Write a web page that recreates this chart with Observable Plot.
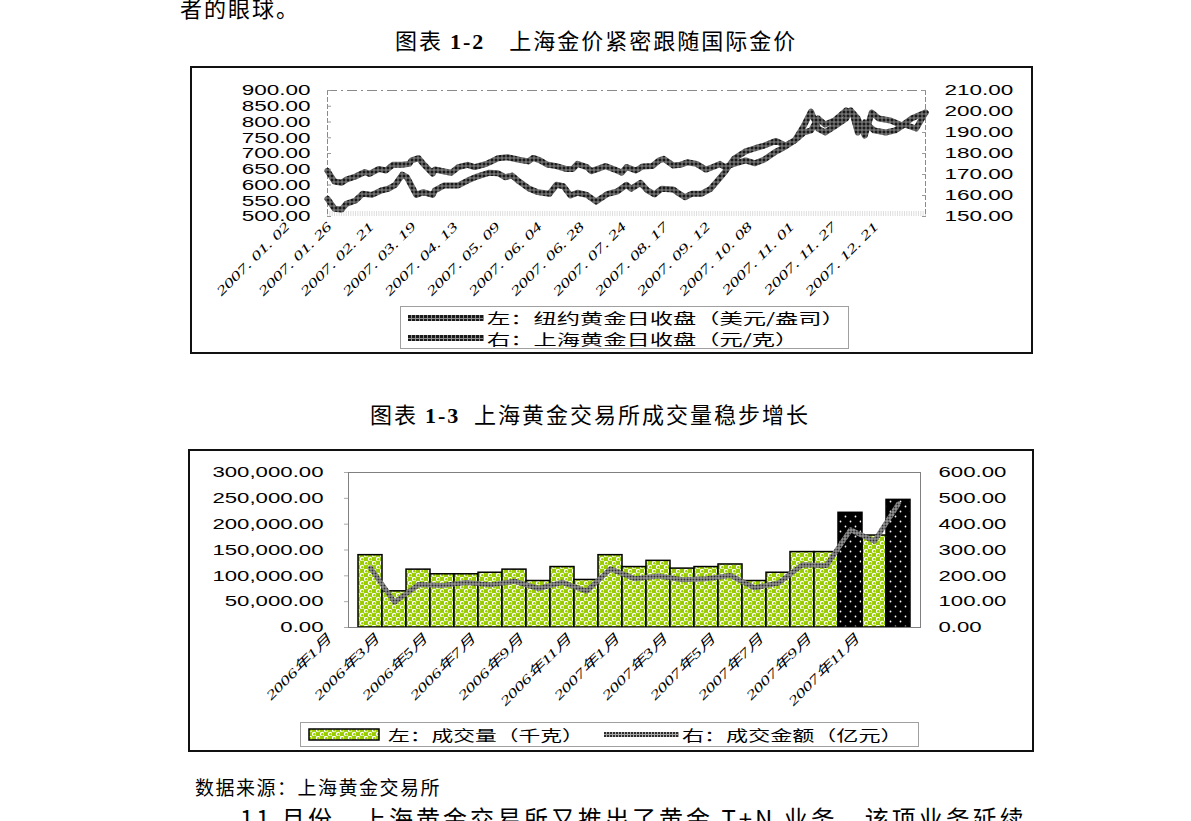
<!DOCTYPE html>
<html><head><meta charset="utf-8">
<script src="https://cdn.jsdelivr.net/npm/d3@7"></script>
<script src="https://cdn.jsdelivr.net/npm/@observablehq/plot@0.6"></script>
<style>
body{margin:0;background:#fff;}
#page{position:relative;width:1191px;height:821px;overflow:hidden;background:#fff;font-family:"Noto Sans CJK SC",sans-serif;color:#000;}
.abs{position:absolute;white-space:nowrap;}
.doc{font-size:22px;letter-spacing:2px;line-height:1;}
.box{position:absolute;box-sizing:border-box;border:2px solid #111;}
.lgbox{position:absolute;box-sizing:border-box;border:1px solid #a0a0a0;background:#fff;}
.lgtxt{position:absolute;font-size:15px;line-height:15px;height:15px;transform:scaleX(1.55);transform-origin:0 50%;white-space:nowrap;}
</style></head><body>
<svg width="0" height="0" style="position:absolute"><defs>
  <pattern id="tex1" width="4" height="4" patternUnits="userSpaceOnUse">
    <rect width="4" height="4" fill="#8c8c8c"/><rect width="3" height="3" fill="#1a1a1a"/>
  </pattern>
  <pattern id="tex2" width="3" height="3" patternUnits="userSpaceOnUse">
    <rect width="3" height="3" fill="#a8a8a8"/><rect width="2" height="2" fill="#2e2e2e"/>
  </pattern>
  <pattern id="green" width="8" height="8" patternUnits="userSpaceOnUse">
    <rect width="8" height="8" fill="#99cc00"/>
    <circle cx="2" cy="2" r="2.2" fill="#fff"/><circle cx="6" cy="6" r="2.2" fill="#fff"/>
    <circle cx="2.3" cy="2.3" r="1.2" fill="#9c0"/><circle cx="6.3" cy="6.3" r="1.2" fill="#9c0"/>
  </pattern>
  <pattern id="blackdots" width="10" height="10" patternUnits="userSpaceOnUse">
    <rect width="10" height="10" fill="#000"/>
    <circle cx="2.5" cy="2.5" r="0.9" fill="#fff"/><circle cx="7.5" cy="7.5" r="0.9" fill="#fff"/>
  </pattern>
</defs></svg>
<div id="page">
  <div class="abs doc" style="left:180px;top:-4px;">者的眼球。</div>
  <div class="abs doc" style="left:395px;top:28px;">图表 <b style="font-family:'Liberation Serif',serif;">1-2</b>　上海金价紧密跟随国际金价</div>
  <div class="box" style="left:190px;top:66px;width:843px;height:288px;"></div>
  <div id="c1" class="abs" style="left:190px;top:66px;width:842px;height:230px;"></div>
  <div class="lgbox" style="left:400px;top:306px;width:449px;height:43px;"></div>
  <svg class="abs" style="left:408px;top:315px;" width="76" height="6"><rect width="76" height="6" fill="url(#tex1)"/></svg>
  <svg class="abs" style="left:408px;top:335px;" width="76" height="6"><rect width="76" height="6" fill="url(#tex1)"/></svg>
  <div class="lgtxt" style="left:487px;top:310px;">左：纽约黄金日收盘（美元/盎司）</div>
  <div class="lgtxt" style="left:487px;top:331px;">右：上海黄金日收盘（元/克）</div>

  <div class="abs doc" style="left:370px;top:402px;">图表 <b style="font-family:'Liberation Serif',serif;">1-3</b>&nbsp;&nbsp;上海黄金交易所成交量稳步增长</div>
  <div class="box" style="left:188px;top:449px;width:846px;height:303px;"></div>
  <div id="c2" class="abs" style="left:188px;top:449px;width:845px;height:260px;"></div>
  <div class="lgbox" style="left:300px;top:722px;width:619px;height:25px;"></div>
  <svg class="abs" style="left:308px;top:728px;" width="73" height="14"><rect x="1" y="1" width="70" height="11" fill="url(#green)" stroke="#000" stroke-width="1.5"/></svg>
  <div class="lgtxt" style="left:388px;top:727px;transform:scaleX(1.45);">左：成交量（千克）</div>
  <svg class="abs" style="left:604px;top:732px;" width="75" height="5"><rect width="75" height="5" fill="url(#tex2)"/></svg>
  <div class="lgtxt" style="left:682px;top:727px;transform:scaleX(1.47);">右：成交金额（亿元）</div>

  <div class="abs doc" style="left:195px;top:777px;font-size:19px;letter-spacing:1.5px;">数据来源：上海黄金交易所</div>
  <div class="abs doc" style="left:240px;top:806px;font-size:24px;letter-spacing:3px;">11 月份，上海黄金交易所又推出了黄金 T+N 业务，该项业务延续</div>
</div>
<script>
// ---- Chart 1-2 data: daily closes (trading-day index within 2007) ----
const dateLabels = ["2007. 01. 02","2007. 01. 26","2007. 02. 21","2007. 03. 19","2007. 04. 13","2007. 05. 09","2007. 06. 04","2007. 06. 28","2007. 07. 24","2007. 08. 17","2007. 09. 12","2007. 10. 08","2007. 11. 01","2007. 11. 27","2007. 12. 21"];
const labelDays = [0,18,36,54,72,90,108,126,144,162,180,198,216,234,252];
const lastDay = 256;
const nyDay = [0,3,6,8,12,16,18,22,25,28,32,35,36,39,41,45,46,50,53,56,60,63,68,73,77,82,86,88,91,94,98,102,105,107,111,113,119,123,126,128,132,135,139,142,144,148,151,154,158,162,165,168,170,174,179,183,187,192,196,200,204,207,210,213,217,222,224,227,230,233,236,241,246,250,256];
const nyClose = [645,611,607,617,627,641,635,651,646,664,664,667,678,685,667,636,649,643,639,657,664,657,667,685,688,680,675,686,678,665,660,651,651,667,657,644,660,649,639,657,646,659,660,678,683,662,664,672,667,649,657,667,657,667,678,669,681,706,722,741,789,833,779,767,786,811,837,811,757,830,811,805,789,811,830];
const shDay = [0,3,6,8,12,15,19,23,26,29,32,34,38,41,45,46,50,56,60,64,69,73,76,79,82,86,90,95,98,101,104,107,111,115,120,124,128,130,134,137,140,143,148,150,153,156,160,164,167,170,174,179,183,187,192,196,200,204,207,210,213,217,222,225,227,230,234,239,243,247,252,256];
const shClose = [158.4,153.7,153.3,156,157.6,160.8,160.3,162.4,163.2,165.1,169.9,168.7,160.3,161.6,160.3,162.4,164.8,164.8,167.1,169,170.8,170.6,168.7,169.5,166.7,163.5,161.6,160.8,165.1,164.4,160,161.3,160.3,157.1,160.8,161.9,165.1,163.2,166,162.4,160.5,163.2,162.9,161.3,159.2,160.8,160.8,163.2,167.1,171,177.5,181,182.5,183.8,186,183.8,186.2,190,191,196.7,193.8,195.7,200.5,198.1,190,194.8,191,190,191,193.8,191.9,199.5];
const nyTicks = [500,550,600,650,700,750,800,850,900];
const shTicks = [150,160,170,180,190,200,210];

// ---- Chart 1-3 data: monthly volume (kg) and turnover (亿元) ----
const months = ["2006年1月","2006年2月","2006年3月","2006年4月","2006年5月","2006年6月","2006年7月","2006年8月","2006年9月","2006年10月","2006年11月","2006年12月","2007年1月","2007年2月","2007年3月","2007年4月","2007年5月","2007年6月","2007年7月","2007年8月","2007年9月","2007年10月","2007年11月"];
const volume = [140000,70000,112000,103000,103000,106000,112000,90000,117000,92000,140000,117000,129000,114000,117000,122000,90000,106000,146000,146000,222000,178000,247000];
const turnover = [231,98,166,163,174,165,179,151,175,141,227,189,199,185,189,201,154,172,243,240,378,334,479];
const darkMonths = ["2007年9月","2007年11月"];
const volTicks = [0,50000,100000,150000,200000,250000,300000];
const amtTicks = [0,100,200,300,400,500,600];

// dual-axis helpers
const [l0,l1] = [nyTicks[0], nyTicks[nyTicks.length-1]];
const [r0,r1] = [shTicks[0], shTicks[shTicks.length-1]];
const toLeft = v => l0 + (v - r0) * (l1 - l0) / (r1 - r0);
const toRight = v => r0 + (v - l0) * (r1 - r0) / (l1 - l0);
const k2 = volTicks[volTicks.length-1] / amtTicks[amtTicks.length-1];

const nyData = nyDay.map((d,i)=>({day:d, v:nyClose[i]}));
const shData = shDay.map((d,i)=>({day:d, v:shClose[i]}));
const rows = months.map((m,i)=>({m, vol:volume[i], amt:turnover[i], dark: darkMonths.includes(m)}));
const allDays = d3.range(0, lastDay+1);

const axFont = "'Liberation Sans', Arial, sans-serif";
const lblFont = "'Liberation Serif', 'Noto Sans CJK SC', serif";

const c1 = Plot.plot({
  width: 842, height: 230,
  marginTop: 24, marginBottom: 80, marginLeft: 137, marginRight: 107,
  style: {background: "transparent", fontFamily: axFont, fontSize: "15px", color: "#000", overflow: "visible"},
  x: {domain: [0, lastDay]},
  y: {domain: [l0, l1]},
  marks: [
    Plot.axisX(allDays, {anchor: "bottom", tickSize: 5, dy: -5, stroke: "#cfcfcf", strokeWidth: 0.7, tickFormat: () => "", label: null}),
    Plot.ruleY([l1], {stroke: "#8a8a8a", strokeDasharray: "10,4,2,4"}),
    Plot.ruleX([0, lastDay], {stroke: "#8a8a8a", strokeDasharray: "5,2"}),
    Plot.axisY(nyTicks, {anchor: "left", tickSize: -4, stroke: "#999", tickFormat: () => "", label: null}),
    Plot.axisY(shTicks.map(toLeft), {anchor: "right", tickSize: -4, stroke: "#999", tickFormat: () => "", label: null}),
    Plot.axisY(nyTicks, {anchor: "left", tickSize: 0, tickPadding: 17, tickFormat: d => d.toFixed(2), label: null}),
    Plot.axisY(shTicks.map(toLeft), {anchor: "right", tickSize: 0, tickPadding: 19, tickFormat: d => toRight(d).toFixed(2), label: null}),
    Plot.axisX(labelDays, {anchor: "bottom", tickSize: 0, tickPadding: 8, tickRotate: -45, dx: -40,
      tickFormat: d => dateLabels[labelDays.indexOf(d)], fontFamily: lblFont, fontStyle: "italic", fontSize: 13, label: null}),
    Plot.line(nyData, {x: "day", y: "v", stroke: "url(#tex1)", strokeWidth: 6}),
    Plot.line(shData, {x: "day", y: d => toLeft(d.v), stroke: "url(#tex1)", strokeWidth: 6})
  ]
});
document.getElementById("c1").append(c1);

const labelMonths = months.filter((m,i) => i % 2 === 0);
const c2 = Plot.plot({
  width: 845, height: 260,
  marginTop: 23, marginBottom: 82, marginLeft: 160, marginRight: 113,
  style: {background: "transparent", fontFamily: axFont, fontSize: "15px", color: "#000", overflow: "visible"},
  x: {type: "band", domain: months, padding: 0},
  y: {domain: [volTicks[0], volTicks[volTicks.length-1]]},
  marks: [
    Plot.barY(rows.filter(d => !d.dark), {x: "m", y: "vol", fill: "url(#green)", stroke: "#000", strokeWidth: 1.5}),
    Plot.barY(rows.filter(d => d.dark), {x: "m", y: "vol", fill: "url(#blackdots)", stroke: "#000", strokeWidth: 1.5}),
    Plot.frame({stroke: "#808080"}),
    Plot.line(rows, {x: "m", y: d => d.amt * k2, stroke: "url(#tex2)", strokeWidth: 5}),
    Plot.axisY(volTicks, {anchor: "left", tickSize: 4, tickPadding: 21, stroke: "#aaa", tickFormat: d3.format(",.2f"), label: null}),
    Plot.axisY(amtTicks.map(d => d * k2), {anchor: "right", tickSize: 0, tickPadding: 18, tickFormat: d => (d / k2).toFixed(2), label: null}),
    Plot.axisX(labelMonths, {anchor: "bottom", tickSize: 0, tickPadding: 9, tickRotate: -45, dx: -41,
      fontFamily: lblFont, fontStyle: "italic", fontSize: 13, label: null})
  ]
});
document.getElementById("c2").append(c2);

// the source figure is horizontally stretched: widen tick labels to match
function stretch(svg, factor) {
  svg.querySelectorAll('g[aria-label$="tick label"] text').forEach(t => {
    const w = t.getComputedTextLength();
    if (w > 0) { t.setAttribute("textLength", (w * factor).toFixed(1)); t.setAttribute("lengthAdjust", "spacingAndGlyphs"); }
  });
}
stretch(c1, 1.5);
stretch(c2, 1.48);
</script>
</body></html>
